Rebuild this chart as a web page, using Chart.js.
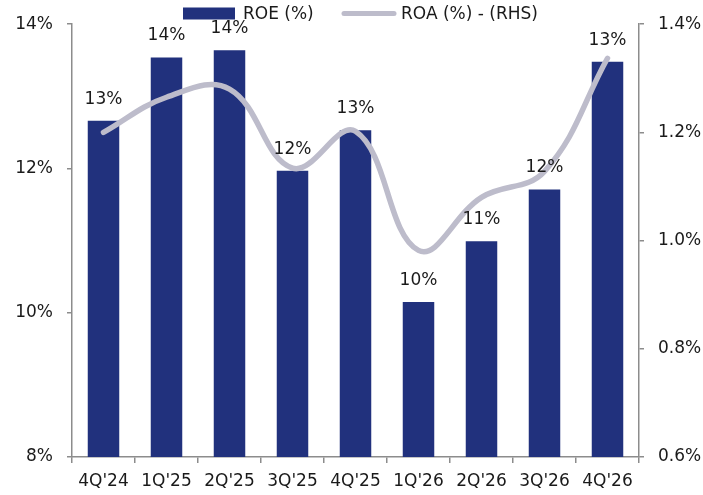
<!DOCTYPE html>
<html><head><meta charset="utf-8">
<script src="https://cdn.jsdelivr.net/npm/chart.js@4"></script>
<style>html,body{margin:0;padding:0;background:#fff}#w{width:703px;height:495px}</style>
</head><body><div id="w"><canvas id="c"></canvas></div>
<script>
const categories = ["4Q'24","1Q'25","2Q'25","3Q'25","4Q'25","1Q'26","2Q'26","3Q'26","4Q'26"];
const roe = [12.66, 13.54, 13.64, 11.97, 12.53, 10.15, 10.99, 11.71, 13.48];
const roa = [1.20, 1.265, 1.28, 1.134, 1.202, 0.982, 1.08, 1.128, 1.337];
const roeLabels = ["13%","14%","14%","12%","13%","10%","11%","12%","13%"];
const leftTicks = [8, 10, 12, 14];
const rightTicks = [0.6, 0.8, 1.0, 1.2, 1.4];
const legendNames = ["ROE (%)", "ROA (%) - (RHS)"];

const FONT = "'DejaVu Sans', sans-serif";
const axisColor = '#8c8c8c';
const barColor = '#21317d';
const lineColor = '#bdbccb';
const textColor = '#1a1a1a';

const labelPlugin = {
  id: 'barLabels',
  afterDatasetsDraw(chart) {
    const meta = chart.getDatasetMeta(1);
    const ctx = chart.ctx;
    ctx.save();
    ctx.font = '17px ' + FONT;
    ctx.fillStyle = textColor;
    ctx.textAlign = 'center';
    ctx.textBaseline = 'alphabetic';
    meta.data.forEach((el, i) => {
      ctx.fillText(roeLabels[i], el.x, el.y - 17);
    });
    ctx.restore();
  }
};

const legendPlugin = {
  id: 'customLegend',
  afterDraw(chart) {
    const ctx = chart.ctx;
    ctx.save();
    ctx.font = '17px ' + FONT;
    ctx.fillStyle = textColor;
    ctx.textBaseline = 'middle';
    ctx.textAlign = 'left';
    const y = 13.5;
    // item 1: bar box
    let x = 183;
    ctx.fillStyle = barColor;
    ctx.fillRect(x, y - 6, 52, 12);
    ctx.fillStyle = textColor;
    ctx.fillText(legendNames[0], x + 60, y + 1);
    // item 2: line
    x = 344;
    ctx.strokeStyle = lineColor;
    ctx.lineWidth = 5;
    ctx.lineCap = 'round';
    ctx.beginPath();
    ctx.moveTo(x, y);
    ctx.lineTo(x + 50, y);
    ctx.stroke();
    ctx.fillText(legendNames[1], x + 57, y + 1);
    ctx.restore();
  }
};

new Chart(document.getElementById('c'), {
  data: {
    labels: categories,
    datasets: [
      { type: 'line', label: legendNames[1], data: roa, yAxisID: 'y1',
        borderColor: lineColor, backgroundColor: lineColor, borderWidth: 5.5,
        pointRadius: 0, tension: 0.4, borderCapStyle: 'round', order: 0 },
      { type: 'bar', label: legendNames[0], data: roe, yAxisID: 'y',
        backgroundColor: barColor, borderWidth: 0,
        categoryPercentage: 1, barPercentage: 0.5, order: 1 }
    ]
  },
  options: {
    responsive: true, maintainAspectRatio: false, animation: false,
    layout: { padding: { top: 24, right: 0, left: 0, bottom: 0 } },
    plugins: {
      tooltip: { enabled: false },
      legend: { display: false }
    },
    scales: {
      x: {
        offset: true,
        afterFit(s) { s.height = 38; },
        grid: { display: true, drawOnChartArea: false, drawTicks: true, tickLength: 6, color: axisColor, offset: true, lineWidth: 1.5 },
        border: { color: axisColor, width: 1.5 },
        ticks: { font: { size: 17, family: FONT }, color: textColor, padding: 8, maxRotation: 0, autoSkip: false }
      },
      y: {
        position: 'left', min: 8, max: 14,
        afterFit(s) { s.width = 72; },
        afterBuildTicks(s) { s.ticks = leftTicks.map(v => ({ value: v })); },
        grid: { display: true, drawOnChartArea: false, tickLength: 5, color: axisColor, lineWidth: 1.5 },
        border: { color: axisColor, width: 1.5 },
        ticks: { font: { size: 17, family: FONT }, color: textColor, padding: 14, callback: v => v + '%' }
      },
      y1: {
        position: 'right', min: 0.6, max: 1.4,
        afterFit(s) { s.width = 64; },
        afterBuildTicks(s) { s.ticks = rightTicks.map(v => ({ value: v })); },
        grid: { display: true, drawOnChartArea: false, tickLength: 5, color: axisColor, lineWidth: 1.5 },
        border: { color: axisColor, width: 1.5 },
        ticks: { font: { size: 17, family: FONT }, color: textColor, padding: 14, callback: v => v.toFixed(1) + '%' }
      }
    }
  },
  plugins: [labelPlugin, legendPlugin]
});
</script></body></html>
